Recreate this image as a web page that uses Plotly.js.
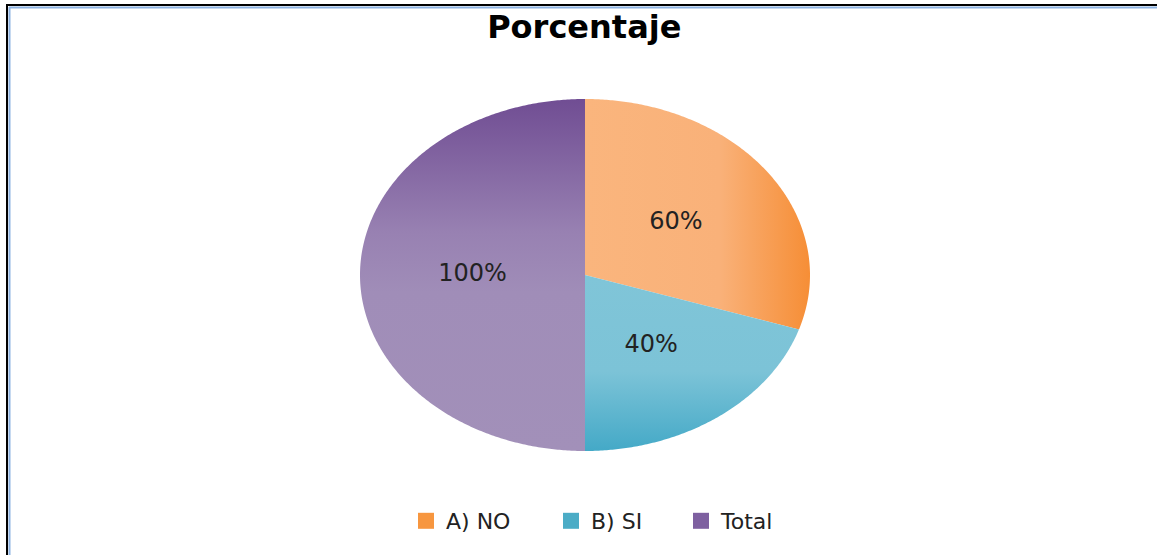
<!DOCTYPE html>
<html><head><meta charset="utf-8">
<script src="https://cdn.plot.ly/plotly-3.0.1.min.js"></script>
<style>html,body{margin:0;padding:0;background:#fff;}#chart{width:1157px;height:555px;}</style>
</head><body><div id="chart"></div>
<script>
// ---- data ----
const chartTitle = 'Porcentaje';
const categories = ['A) NO', 'B) SI', 'Total'];
const values = [60, 40, 100];
const labelTexts = ['60%', '40%', '100%'];

// ---- styles ----
const legendColors = ['#F7963F', '#4BACC6', '#7E60A0'];
const legendWidths = [100, 85, 70];
const gradients = [
  {type: 'horizontal', colorscale: [[0, '#FAB57D'], [0.6, '#F9B179'], [1, '#F68E36']]},
  {type: 'vertical', colorscale: [[0, '#44A9C7'], [0.45, '#7CC3D7'], [1, '#80C5D8']]},
  {type: 'vertical', colorscale: [[0, '#A290B9'], [0.45, '#A08DB8'], [0.62, '#9881B2'], [1, '#704D93']]}
];
const FONT = 'DejaVu Sans, Arial, sans-serif';

const total = values.reduce((a, b) => a + b, 0);
const traces = [];
const lx = [], ly = [];
let cum = 0;
values.forEach((v, i) => {
  const a0 = cum / total * 2 * Math.PI;
  const a1 = (cum + v) / total * 2 * Math.PI;
  cum += v;
  const n = Math.max(8, Math.ceil((a1 - a0) / (Math.PI / 360)));
  const xs = [0], ys = [0];
  for (let k = 0; k <= n; k++) {
    const a = a0 + (a1 - a0) * k / n;
    xs.push(Math.sin(a)); ys.push(Math.cos(a));
  }
  xs.push(0); ys.push(0);
  traces.push({
    type: 'scatter', mode: 'none', x: xs, y: ys, fill: 'toself',
    fillgradient: gradients[i], showlegend: false, hoverinfo: 'skip'
  });
  const am = (a0 + a1) / 2;
  lx.push(0.5 * Math.sin(am)); ly.push(0.5 * Math.cos(am));
});
traces.push({
  type: 'scatter', mode: 'text', x: lx, y: ly, text: labelTexts,
  textfont: {family: FONT, size: 24, color: '#222'}, showlegend: false, hoverinfo: 'skip'
});
categories.forEach((c, i) => {
  traces.push({
    type: 'scatter', mode: 'markers', x: [null], y: [null], name: c,
    marker: {symbol: 'square', size: 20, color: legendColors[i]}, showlegend: true,
    legendwidth: legendWidths[i]
  });
});

const W = 1157, H = 555, cx = 585, cy = 275, rx = 225, ry = 176;
const layout = {
  width: W, height: H,
  margin: {l: 0, r: 0, t: 0, b: 0},
  paper_bgcolor: '#fff', plot_bgcolor: '#fff',
  title: {text: '<b>' + chartTitle + '</b>', x: 0.505, xanchor: 'center', y: 1 - 27 / H, yanchor: 'middle', yref: 'container',
          font: {family: FONT, size: 32, color: '#000'}},
  xaxis: {visible: false, range: [-cx / rx, (W - cx) / rx], fixedrange: true},
  yaxis: {visible: false, range: [-(H - cy) / ry, cy / ry], fixedrange: true},
  showlegend: true,
  legend: {orientation: 'h', x: 406 / W, xanchor: 'left', y: (H - 521) / H, yanchor: 'middle',
           font: {family: FONT, size: 22, color: '#222'}, bgcolor: 'rgba(0,0,0,0)'},
  shapes: [
    {type: 'line', xref: 'paper', yref: 'paper', x0: 7 / W, x1: 1.01, y0: 1 - 5 / H, y1: 1 - 5 / H, line: {color: '#000', width: 2}},
    {type: 'line', xref: 'paper', yref: 'paper', x0: 7 / W, x1: 7 / W, y0: 1 - 4 / H, y1: -0.01, line: {color: '#000', width: 2}},
    {type: 'line', xref: 'paper', yref: 'paper', x0: 9 / W, x1: 1.01, y0: 1 - 7.5 / H, y1: 1 - 7.5 / H, line: {color: '#8DB3E2', width: 2}},
    {type: 'line', xref: 'paper', yref: 'paper', x0: 9.5 / W, x1: 9.5 / W, y0: 1 - 7 / H, y1: -0.01, line: {color: '#8DB3E2', width: 2}}
  ]
};
Plotly.newPlot('chart', traces, layout, {displayModeBar: false, staticPlot: true});
</script></body></html>
